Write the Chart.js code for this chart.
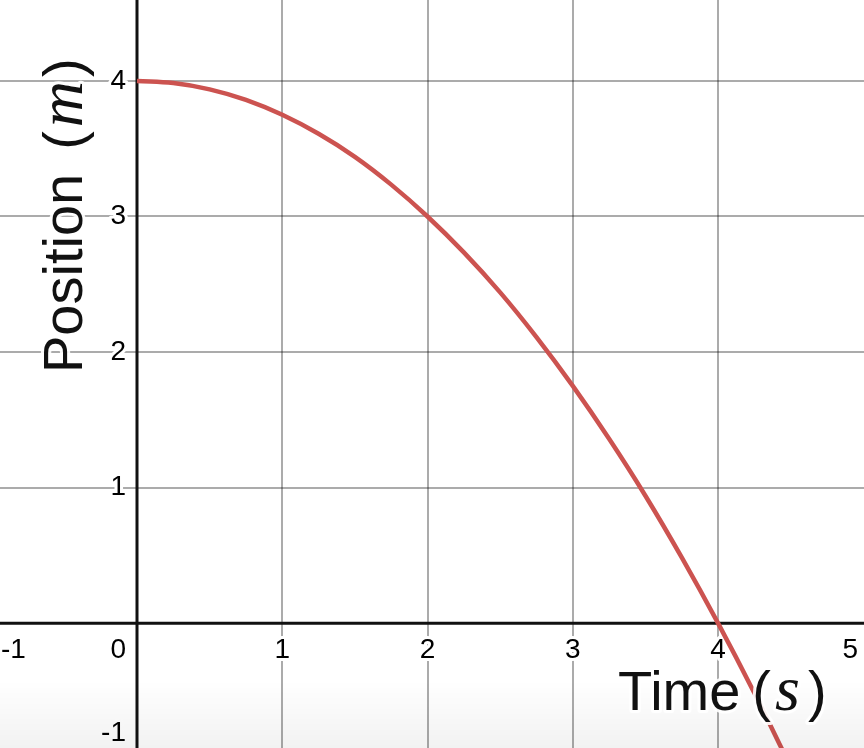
<!DOCTYPE html>
<html>
<head>
<meta charset="utf-8">
<script src="https://cdn.jsdelivr.net/npm/chart.js@4.4.1/dist/chart.umd.min.js"></script>
<style>
  html, body { margin: 0; padding: 0; background: #fff; }
  #wrap { width: 864px; height: 748px; position: relative; }
</style>
</head>
<body>
<div id="wrap"><canvas id="posChart"></canvas></div>
<script>
// Time (s) and position (m)
const timeValues = [0, 0.25, 0.5, 0.75, 1, 1.25, 1.5, 1.75, 2, 2.25, 2.5, 2.75, 3, 3.25, 3.5, 3.75, 4, 4.25, 4.5];
const positionValues = [4, 3.984, 3.938, 3.86, 3.75, 3.61, 3.44, 3.235, 3.0, 2.735, 2.44, 2.11, 1.75, 1.36, 0.94, 0.485, 0, -0.515, -1.06];
const xTicks = [-1, 0, 1, 2, 3, 4, 5];
const yTicks = [-1, 1, 2, 3, 4];
const xTitle = ['Time', 's'];
const yTitle = ['Position', 'm'];

const SANS = '"Liberation Sans", Arial, sans-serif';
const SERIF = '"Liberation Serif", "Times New Roman", serif';

// grid colour: integer lines grey, axis lines drawn by plugin
function gridColor(ctx) {
    const v = ctx.tick.value;
    if (Math.abs(v - Math.round(v)) > 1e-6 || v === 0) return 'rgba(0,0,0,0)';
    return 'rgba(0,0,0,0.33)';
}

// axes, tick labels, titles (Desmos look)
const desmosDecor = {
    id: 'desmosDecor',
    beforeDatasetsDraw(chart) {
        const { ctx, chartArea: a, scales: { x, y } } = chart;
        const x0 = x.getPixelForValue(0), y0 = y.getPixelForValue(0);
        ctx.save();
        ctx.strokeStyle = '#111';
        ctx.lineWidth = 3;
        ctx.beginPath();
        ctx.moveTo(a.left, y0); ctx.lineTo(a.right, y0);
        ctx.moveTo(x0, a.top); ctx.lineTo(x0, a.bottom);
        ctx.stroke();

        ctx.font = '28px ' + SANS;
        ctx.fillStyle = '#000';
        ctx.strokeStyle = '#fff';
        ctx.lineWidth = 6;
        ctx.lineJoin = 'round';
        ctx.textBaseline = 'middle';
        // x labels
        xTicks.forEach(v => {
            const txt = String(v);
            const w = ctx.measureText(txt).width;
            let cx;
            if (v === 0) cx = x0 - 11 - w / 2;
            else cx = x.getPixelForValue(v);
            cx = Math.max(w / 2 + 1, Math.min(a.right - 6 - w / 2, cx));
            ctx.textAlign = 'center';
            ctx.strokeText(txt, cx, y0 + 27);
            ctx.fillText(txt, cx, y0 + 27);
        });
        // y labels
        yTicks.forEach(v => {
            const txt = String(v);
            let cy = y.getPixelForValue(v);
            cy = Math.max(14, Math.min(a.bottom - 15, cy));
            ctx.textAlign = 'right';
            ctx.strokeText(txt, x0 - 11, cy);
            ctx.fillText(txt, x0 - 11, cy);
        });
        ctx.restore();
    },
    afterDatasetsDraw(chart) {
        const { ctx, chartArea: a } = chart;
        ctx.save();
        // soft shade along the bottom edge
        const g = ctx.createLinearGradient(0, 680, 0, a.bottom);
        g.addColorStop(0, 'rgba(0,0,0,0)');
        g.addColorStop(1, 'rgba(0,0,0,0.05)');
        ctx.fillStyle = g;
        ctx.fillRect(a.left, 680, a.right - a.left, a.bottom - 680);

        ctx.fillStyle = '#111';
        ctx.strokeStyle = 'rgba(255,255,255,0.9)';
        ctx.lineWidth = 6;
        ctx.lineJoin = 'round';
        ctx.textBaseline = 'alphabetic';
        ctx.textAlign = 'left';
        const part = (txt, font, px, py) => {
            ctx.font = font;
            ctx.strokeText(txt, px, py);
            ctx.fillText(txt, px, py);
            return ctx.measureText(txt).width;
        };
        const sans = '56px ' + SANS, ital = 'italic 64px ' + SERIF;
        // x title
        let px = 618;
        px += part(xTitle[0], sans, px, 710) + 12;
        px += part('(', sans, px, 710) + 4;
        px += part(xTitle[1], ital, px, 710) + 8;
        part(')', sans, px, 710);
        // y title (rotated)
        ctx.translate(82, 373);
        ctx.rotate(-Math.PI / 2);
        px = 0;
        px += part(yTitle[0], sans, px, 0) + 24;
        px += part('(', sans, px, 0) + 4;
        px += part(yTitle[1], ital, px, 0) + 4;
        part(')', sans, px, 0);
        ctx.restore();
    }
};

new Chart(document.getElementById('posChart'), {
    type: 'line',
    data: {
        labels: timeValues,
        datasets: [{
            data: timeValues.map((t, i) => ({ x: t, y: positionValues[i] })),
            borderColor: '#cc5350',
            borderWidth: 4.5,
            pointRadius: 0,
            tension: 0.4,
            fill: false
        }]
    },
    options: {
        responsive: true,
        maintainAspectRatio: false,
        animation: false,
        layout: { padding: 0 },
        plugins: { legend: { display: false }, tooltip: { enabled: false } },
        scales: {
            x: {
                type: 'linear', min: -0.9432, max: 5.005,
                ticks: { display: false, stepSize: 1 },
                border: { display: false },
                grid: { color: gridColor, lineWidth: 2, drawTicks: false }
            },
            y: {
                type: 'linear', min: -0.921, max: 4.597,
                ticks: { display: false, stepSize: 1 },
                border: { display: false },
                grid: { color: gridColor, lineWidth: 2, drawTicks: false }
            }
        }
    },
    plugins: [desmosDecor]
});
</script>
</body>
</html>
